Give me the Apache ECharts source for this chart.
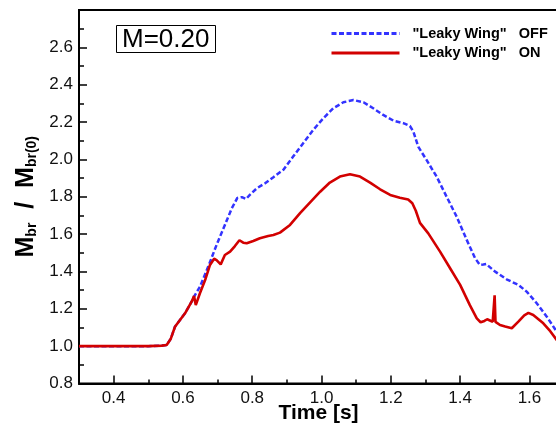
<!DOCTYPE html>
<html>
<head>
<meta charset="utf-8">
<script src="https://cdn.jsdelivr.net/npm/echarts@6/dist/echarts.min.js"></script>
<style>
html,body{margin:0;padding:0;background:#fff;}
#chart{width:556px;height:428px;}
</style>
</head>
<body>
<div id="chart"></div>
<script>
// ---- data ----
var offTime = [0.30,0.50,0.54,0.553,0.565,0.577,0.5915,0.606,0.625,0.632,0.649,0.673,0.697,0.721,0.741,0.757,0.770,0.782,0.793,0.813,0.837,0.861,0.890,0.918,0.947,0.976,1.005,1.034,1.063,1.092,1.121,1.149,1.178,1.207,1.236,1.255,1.265,1.279,1.303,1.332,1.361,1.390,1.419,1.443,1.457,1.467,1.475,1.501,1.534,1.568,1.592,1.621,1.650,1.682];
var offValue = [1.0,1.0,1.003,1.006,1.04,1.104,1.14,1.176,1.238,1.265,1.318,1.426,1.542,1.649,1.738,1.794,1.798,1.788,1.81,1.845,1.872,1.905,1.945,2.015,2.087,2.158,2.22,2.274,2.306,2.318,2.306,2.274,2.238,2.208,2.194,2.179,2.149,2.068,1.997,1.908,1.80,1.693,1.569,1.471,1.435,1.437,1.440,1.399,1.358,1.328,1.292,1.23,1.158,1.068];

var onTime = [0.30,0.50,0.54,0.553,0.565,0.577,0.5915,0.606,0.625,0.632,0.637,0.649,0.664,0.678,0.690,0.697,0.709,0.721,0.736,0.750,0.763,0.774,0.784,0.803,0.822,0.846,0.861,0.880,0.909,0.938,0.967,0.996,1.024,1.053,1.082,1.111,1.140,1.169,1.198,1.226,1.250,1.262,1.272,1.284,1.308,1.342,1.371,1.400,1.428,1.448,1.459,1.470,1.478,1.494,1.497,1.4995,1.502,1.505,1.515,1.530,1.549,1.568,1.585,1.597,1.611,1.640,1.660,1.682];
var onValue = [1.0,1.0,1.003,1.006,1.04,1.104,1.14,1.176,1.238,1.268,1.22,1.283,1.354,1.435,1.468,1.461,1.438,1.488,1.506,1.536,1.567,1.554,1.551,1.563,1.578,1.59,1.595,1.608,1.649,1.712,1.77,1.827,1.876,1.908,1.920,1.908,1.876,1.84,1.81,1.795,1.785,1.765,1.725,1.66,1.604,1.506,1.417,1.328,1.22,1.149,1.128,1.135,1.144,1.131,1.14,1.272,1.13,1.124,1.113,1.105,1.096,1.131,1.165,1.178,1.167,1.122,1.08,1.025];

var xMajorTicks = [0.4,0.6,0.8,1.0,1.2,1.4,1.6];
var xMinorTicks = [0.5,0.7,0.9,1.1,1.3,1.5];
var seriesNames = ['"Leaky Wing"   OFF', '"Leaky Wing"   ON'];
var panelLabel = 'M=0.20';

function pairs(t, v){ var out=[]; for (var i=0;i<t.length;i++) out.push([t[i], v[i]]); return out; }

var FONT = '"Liberation Sans", Arial, Helvetica, sans-serif';
var XMIN = 0.3, XMAX = 1.6824;

var chart = echarts.init(document.getElementById('chart'), null, {renderer:'canvas'});
chart.setOption({
  animation: false,
  backgroundColor: '#fff',
  textStyle: {fontFamily: FONT},
  title: {
    text: panelLabel,
    left: 116, top: 25,
    padding: [1,6,0,6],
    borderColor: '#000', borderWidth: 1,
    textStyle: {fontFamily: FONT, fontSize: 26, fontWeight: 'normal', color: '#000', lineHeight: 27}
  },
  legend: {
    orient: 'vertical',
    left: 330, top: 26,
    padding: 0,
    itemWidth: 68, itemHeight: 14, itemGap: 4.5,
    data: seriesNames,
    itemStyle: {opacity: 0},
    lineStyle: {width: 3},
    textStyle: {fontFamily: FONT, fontSize: 14.5, fontWeight: 'bold', color: '#000', padding: [0,0,0,8]}
  },
  grid: {left: 79, top: 10, right: -2, bottom: 44.5, show: true, borderColor: '#000', borderWidth: 2, containLabel: false, outerBoundsMode: 'none'},
  xAxis: [{
    type: 'value', min: XMIN, max: XMAX, position: 'bottom',
    axisLine: {show: true, onZero: false, lineStyle: {color: '#000', width: 2}},
    axisTick: {show: true, inside: true, length: 8, customValues: xMajorTicks, lineStyle: {color: '#000', width: 1.5}},
    axisLabel: {show: true, customValues: xMajorTicks, margin: 6, fontSize: 17, color: '#111', fontFamily: FONT,
      formatter: function(v){ return v.toFixed(1); }},
    splitLine: {show: false},
    name: 'Time [s]', nameLocation: 'middle', nameGap: 19, nameMoveOverlap: false,
    nameTextStyle: {fontFamily: FONT, fontSize: 21, fontWeight: 'bold', color: '#000'}
  },{
    type: 'value', min: XMIN, max: XMAX, position: 'bottom',
    axisLine: {show: false},
    axisTick: {show: true, inside: true, length: 4, customValues: xMinorTicks, lineStyle: {color: '#000', width: 1.5}},
    axisLabel: {show: false},
    splitLine: {show: false}
  }],
  yAxis: {
    type: 'value', min: 0.8, max: 2.8, interval: 0.2,
    axisLine: {show: true, onZero: false, lineStyle: {color: '#000', width: 2}},
    axisTick: {show: true, inside: true, length: 8, lineStyle: {color: '#000', width: 1.5}},
    minorTick: {show: true, splitNumber: 2, length: 5, lineStyle: {color: '#000', width: 1.5}},
    axisLabel: {margin: 6, fontSize: 17, color: '#111', fontFamily: FONT,
      formatter: function(v){ return v > 2.75 ? '' : v.toFixed(1); }},
    splitLine: {show: false},
    name: '{m|M}{s|br}{m|  /  M}{s|br(0)}',
    nameLocation: 'middle', nameRotate: 90, nameGap: 40, nameMoveOverlap: false,
    nameTextStyle: {
      rich: {
        m: {fontFamily: FONT, fontSize: 25, fontWeight: 'bold', color: '#000', lineHeight: 25, verticalAlign: 'top'},
        s: {fontFamily: FONT, fontSize: 14, fontWeight: 'bold', color: '#000', lineHeight: 14, padding: [19,0,0,0], verticalAlign: 'bottom'}
      }
    }
  },
  series: [{
    name: seriesNames[0], type: 'line', xAxisIndex: 0,
    data: pairs(offTime, offValue),
    showSymbol: false, symbol: 'none', clip: true,
    lineStyle: {color: '#3333ff', width: 2.5, type: [5,2.5]},
    itemStyle: {color: '#3333ff'}
  },{
    name: seriesNames[1], type: 'line', xAxisIndex: 0,
    data: pairs(onTime, onValue),
    showSymbol: false, symbol: 'none', clip: true,
    lineStyle: {color: '#d20000', width: 2.6},
    itemStyle: {color: '#d20000'}
  }]
});
</script>
</body>
</html>
